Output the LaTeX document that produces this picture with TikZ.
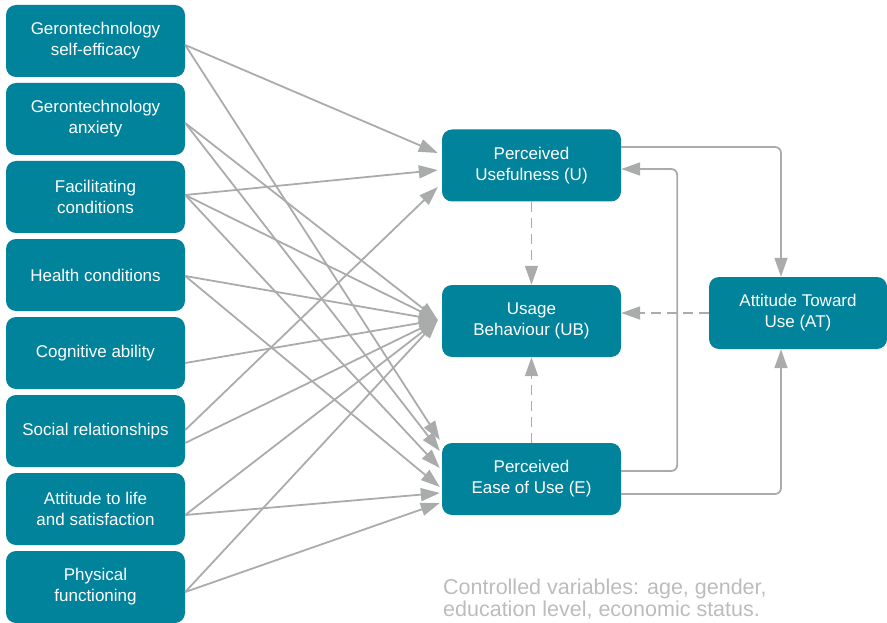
\documentclass[tikz,border=0pt]{standalone}
\usepackage{fontspec}
\setmainfont{Liberation Sans}
\usetikzlibrary{arrows.meta,calc}
\definecolor{boxteal}{RGB}{0,131,155}
\definecolor{linkgray}{RGB}{170,172,172}
\definecolor{notegray}{RGB}{188,188,188}
\tikzset{
  box/.style = {
    fill=boxteal, rounded corners=10pt, text=white, align=center,
    minimum width=179pt, minimum height=72pt, inner sep=0pt,
    font=\fontsize{17}{21}\selectfont
  },
  link/.style = {->, draw=linkgray, line width=1.8pt},
  dashedlink/.style = {link, dash pattern=on 10pt off 6pt}
}
\tikzset{>={Triangle[length=19pt,width=13pt]}}

\begin{document}
\begin{tikzpicture}[x=1pt,y=-1pt]
  \useasboundingbox (0,0) rectangle (887,623);
  % factors
  \node[box] (gse) at (95.5,41) {Gerontechnology\\self-efficacy};
  \node[box] (ga) at (95.5,119) {Gerontechnology\\anxiety};
  \node[box] (fc) at (95.5,197) {Facilitating\\conditions};
  \node[box] (hc) at (95.5,275) {Health conditions};
  \node[box] (ca) at (95.5,353) {Cognitive ability};
  \node[box] (sr) at (95.5,431) {Social relationships};
  \node[box] (als) at (95.5,509) {Attitude to life\\and satisfaction};
  \node[box] (pf) at (95.5,587) {Physical\\functioning};
  % model
  \node[box] (U) at (531.5,165.5) {Perceived\\Usefulness (U)};
  \node[box] (UB) at (531.5,321) {Usage\\Behaviour (UB)};
  \node[box] (E) at (531.5,479) {Perceived\\Ease of Use (E)};
  \node[box,minimum width=178pt] (AT) at (798,313) {Attitude Toward\\Use (AT)};
  % controlled variables
  \node[anchor=north west, inner sep=0pt, align=left, text=notegray,
    font=\fontsize{21.5}{22}\selectfont] (note) at (443,578.5)
    {Controlled variables: age, gender,\\education level, economic status.};
  % factors -> U
  \draw[link] ($(gse.east)+(0,4)$) -- ($(U.west)+(-4,-12.5)$);
  \draw[link] ($(fc.east)+(0,-2)$) -- ($(U.west)+(-4,4.5)$);
  \draw[link] ($(sr.east)+(0,-1)$) -- ($(U.west)+(-4,21.5)$);
  % factors -> UB
  \draw[link] ($(ga.east)+(0,4)$) -- ($(UB.west)+(-4,-1)$);
  \draw[link] ($(fc.east)+(0,-2)$) -- ($(UB.west)+(-4,-1)$);
  \draw[link] ($(hc.east)+(0,1)$) -- ($(UB.west)+(-4,-1)$);
  \draw[link] ($(ca.east)+(0,10)$) -- ($(UB.west)+(-4,-1)$);
  \draw[link] ($(sr.east)+(0,12)$) -- ($(UB.west)+(-4,-1)$);
  \draw[link] ($(als.east)+(0,6)$) -- ($(UB.west)+(-4,-1)$);
  \draw[link] ($(pf.east)+(0,5)$) -- ($(UB.west)+(-4,-1)$);
  % factors -> E
  \draw[link] ($(gse.east)+(0,4)$) -- ($(E.west)+(-2,-39)$);
  \draw[link] ($(ga.east)+(0,4)$) -- ($(E.west)+(-2,-28)$);
  \draw[link] ($(fc.east)+(0,-2)$) -- ($(E.west)+(-2,-11)$);
  \draw[link] ($(hc.east)+(0,1)$) -- ($(E.west)+(-2,8)$);
  \draw[link] ($(als.east)+(0,6)$) -- ($(E.west)+(-2,14)$);
  \draw[link] ($(pf.east)+(0,5)$) -- ($(E.west)+(-2,24)$);
  % model paths
  \draw[link,rounded corners=6pt] ($(U.east)+(0,-18.5)$) -| ($(AT.north)+(-17,0)$);
  \draw[link,rounded corners=6pt] ($(E.east)+(0,-8)$) -| ($(U.east)+(56,3.5)$) -- ($(U.east)+(0,3.5)$);
  \draw[link,rounded corners=6pt] ($(E.east)+(0,15)$) -| ($(AT.south)+(-17,0)$);
  \draw[dashedlink] (AT.west) -- (AT.west -| UB.east);
  \draw[dashedlink] (U.south) -- (UB.north);
  \draw[dashedlink] (E.north) -- (UB.south);
\end{tikzpicture}
\end{document}
